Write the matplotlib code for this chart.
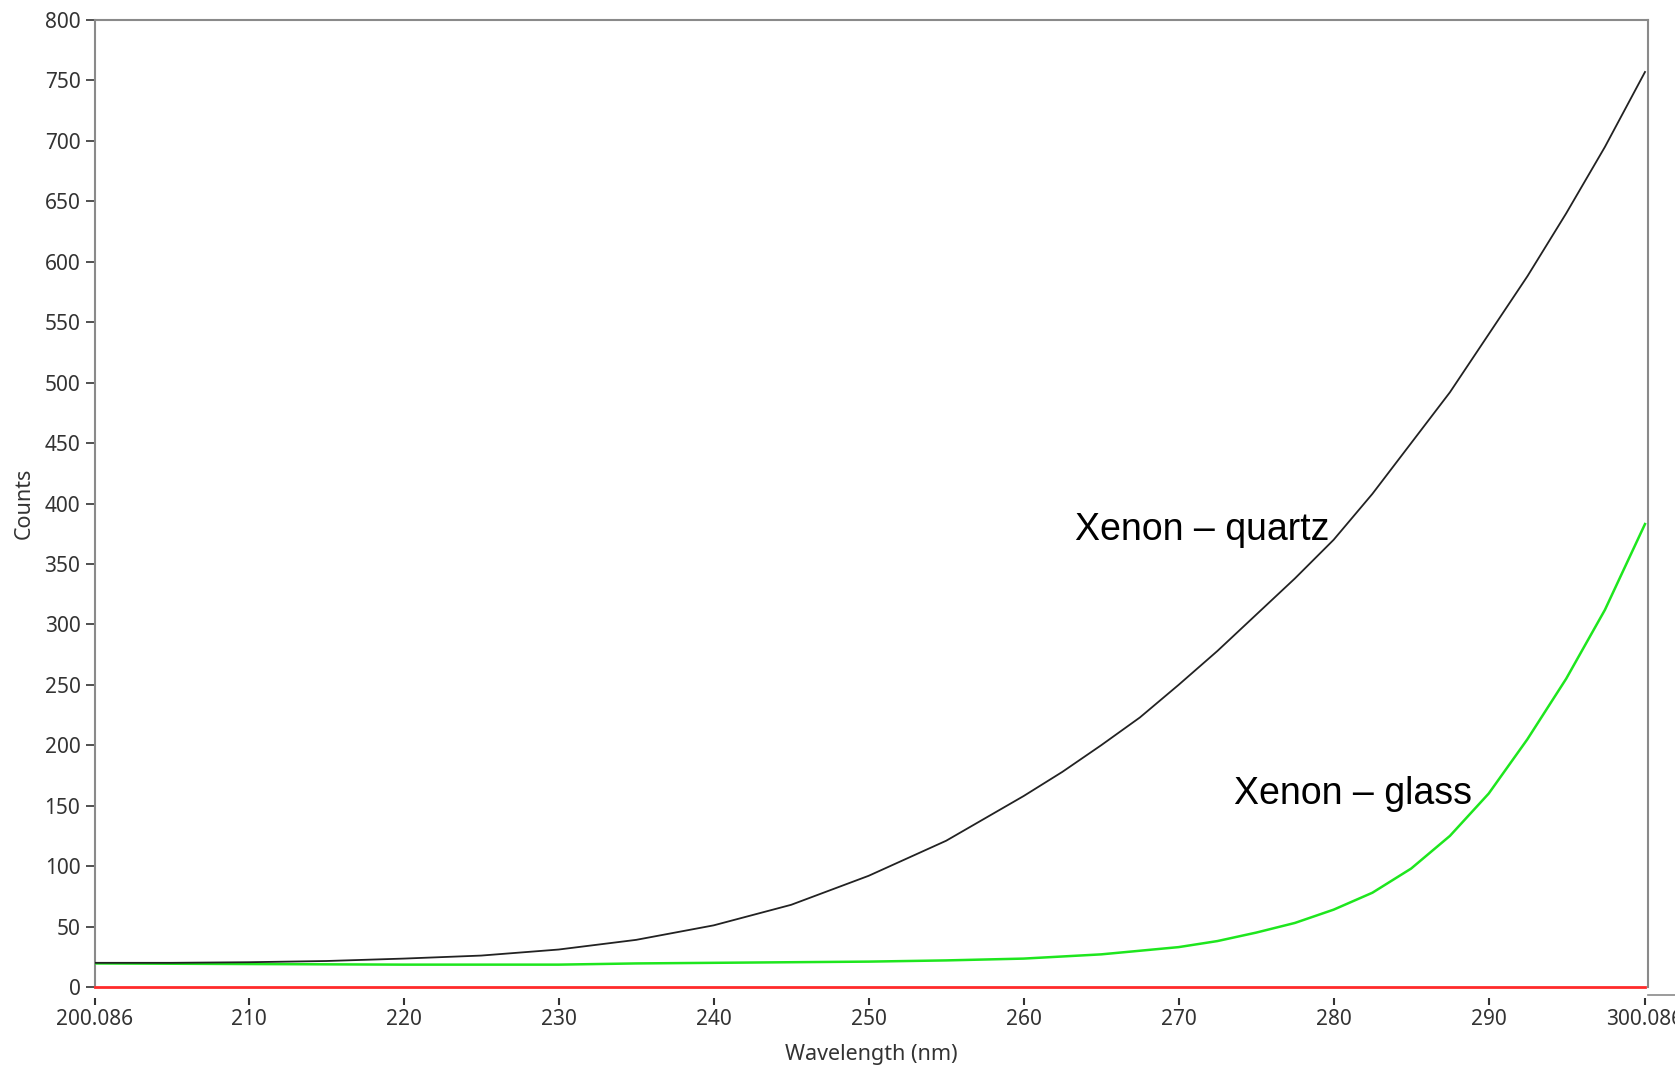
import numpy as np
import matplotlib
matplotlib.use("Agg")
import matplotlib.pyplot as plt
from matplotlib.lines import Line2D

# spectrometer readout, counts vs wavelength
wl_quartz = [200.086, 205, 210, 215, 220, 225, 230, 235, 240, 245, 250, 255,
             260, 262.5, 265, 267.5, 270, 272.5, 275, 277.5, 280, 282.5, 285,
             287.5, 290, 292.5, 295, 297.5, 300.086]
counts_quartz = [20, 20, 20.5, 21.5, 23.5, 26, 31, 39, 51, 68, 92, 121,
                 158, 178, 200, 223, 250, 278, 308, 338, 370, 408, 450,
                 492, 540, 588, 640, 695, 757]

wl_glass = [200.086, 210, 220, 230, 235, 240, 250, 255, 260, 265, 270, 272.5,
            275, 277.5, 280, 282.5, 285, 287.5, 290, 292.5, 295, 297.5, 300.086]
counts_glass = [19.5, 19, 18.5, 18.5, 19.5, 20, 21, 22, 23.5, 27, 33, 38,
                45, 53, 64, 78, 98, 125, 160, 205, 255, 312, 383]

wl_dark = [200.086, 300.086]
counts_dark = [0, 0]

x_ticks = [200.086, 210, 220, 230, 240, 250, 260, 270, 280, 290, 300.086]
x_tick_labels = ["200.086", "210", "220", "230", "240", "250", "260", "270",
                 "280", "290", "300.086"]
y_ticks = list(range(0, 801, 50))

W, H = 1675, 1065
fig = plt.figure(figsize=(W / 100, H / 100), dpi=100)
fig.patch.set_facecolor("white")
ax = fig.add_axes([95 / W, 1 - 987 / H, (1648 - 95) / W, (987 - 20) / H])

# frame first: moving a spine rebuilds its ticks
for side in ("left", "top", "right"):
    ax.spines[side].set_color("#8a8a8a")
    ax.spines[side].set_linewidth(1.5)
ax.spines["bottom"].set_position(("outward", 8))
ax.spines["bottom"].set_visible(False)

ax.plot(wl_dark, counts_dark, color="#ff2a2a", lw=2.0, clip_on=False, zorder=3)
ax.plot(wl_glass, counts_glass, color="#1ee61e", lw=1.8, zorder=4)
ax.plot(wl_quartz, counts_quartz, color="#222222", lw=1.3, zorder=5)

ax.set_xlim(200.086, 300.28)
ax.set_ylim(0, 800)

tick_font = dict(family="Noto Sans", size=15, color="#333333")
ax.set_xticks(x_ticks)
ax.set_xticklabels(x_tick_labels, **tick_font)
ax.set_yticks(y_ticks)
ax.set_yticklabels([str(v) for v in y_ticks], **tick_font)

ax.tick_params(axis="y", direction="out", length=6.5, width=1.2,
               color="#333333", pad=4)
ax.tick_params(axis="x", direction="out", length=5, width=1.5,
               color="#333333", pad=3)

# short stub of the scale line past the right edge
y_stub = 1 - 995 / H
fig.add_artist(Line2D([1648 / W, 1.0], [y_stub, y_stub],
                      transform=fig.transFigure, color="#8a8a8a", lw=1.2))

ax.set_xlabel("Wavelength (nm)", family="Noto Sans", size=15.5,
              color="#333333", labelpad=10)
ax.set_ylabel("Counts", family="Noto Sans", size=15.5,
              color="#333333", labelpad=7)

ax.text(263.3, 378, "Xenon \u2013 quartz", family="Liberation Sans",
        size=27, color="black", va="center", ha="left")
ax.text(273.6, 160, "Xenon \u2013 glass", family="Liberation Sans",
        size=27, color="black", va="center", ha="left")

fig.savefig("out.png", dpi=100, facecolor="white")
